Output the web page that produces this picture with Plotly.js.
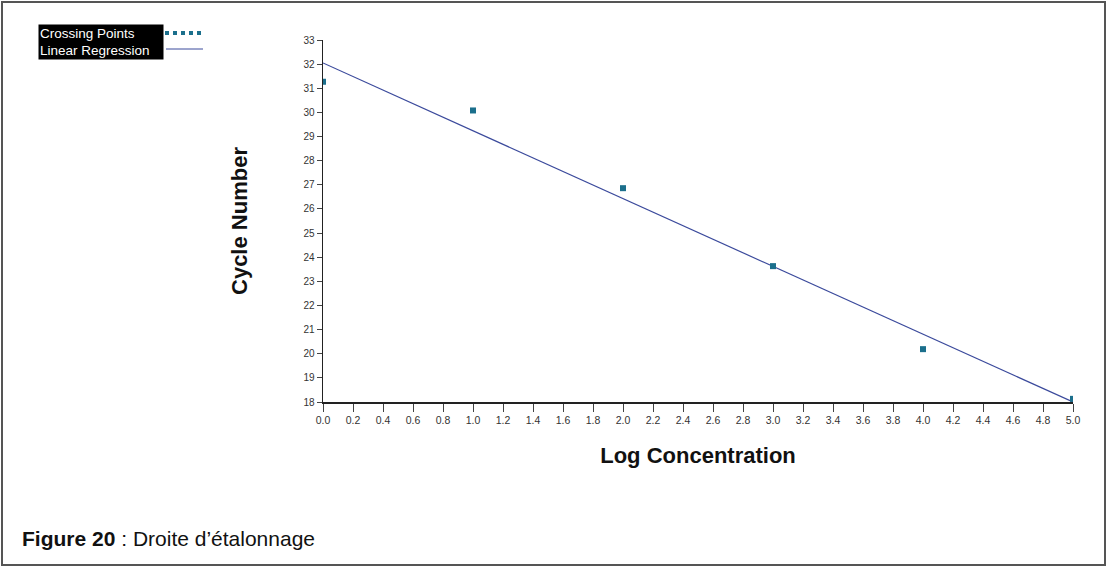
<!DOCTYPE html>
<html>
<head>
<meta charset="utf-8">
<script src="https://cdn.plot.ly/plotly-3.0.1.min.js"></script>
<style>html,body{margin:0;padding:0;background:#fff;}#chart{width:1108px;height:567px;}</style>
</head>
<body>
<div id="chart"></div>
<script>
// Data
const logConcentration = [0, 1, 2, 3, 4, 5];
const crossingPoints = [31.27, 30.08, 26.86, 23.63, 20.19, 18.13];
const regressionX = [0, 5];
const regressionY = [32.05, 18.0];
const seriesNames = ["Crossing Points", "Linear Regression"];

const W = 1108, H = 567;
const M = {l: 323, r: 35, t: 40, b: 165};
const pw = W - M.l - M.r, ph = H - M.t - M.b;
const px = x => (x - M.l) / pw;
const py = y => (H - M.b - y) / ph;

const font = "Liberation Sans, Arial, sans-serif";

const traces = [
  {
    x: regressionX, y: regressionY, mode: "lines", name: seriesNames[1],
    line: {color: "#3b4a9c", width: 1.2}, showlegend: false, hoverinfo: "skip"
  },
  {
    x: logConcentration, y: crossingPoints, mode: "markers", name: seriesNames[0],
    marker: {symbol: "square", size: 6, color: "#1b6f8c"}, showlegend: false
  }
];

const layout = {
  width: W, height: H,
  margin: M,
  paper_bgcolor: "#fff", plot_bgcolor: "#fff",
  font: {family: font, color: "#222"},
  showlegend: false,
  xaxis: {
    range: [0, 5], dtick: 0.2, tick0: 0, tickformat: ".1f",
    showgrid: false, zeroline: false, showline: true, linecolor: "#222", linewidth: 1.5,
    ticks: "outside", ticklen: 8, tickwidth: 1, tickcolor: "#444",
    tickfont: {size: 10.5, color: "#333", family: font},
    title: {text: "Log Concentration", font: {size: 22, family: font, color: "#111", weight: "bold"}, standoff: 22}
  },
  yaxis: {
    range: [18, 33], dtick: 1, tick0: 18,
    showgrid: false, zeroline: false, showline: true, linecolor: "#222", linewidth: 1.5,
    ticks: "outside", ticklen: 5, tickwidth: 1, tickcolor: "#444",
    tickfont: {size: 10, color: "#333", family: font},
    title: {text: "Cycle Number", font: {size: 22, family: font, color: "#111", weight: "bold"}, standoff: 49}
  },
  annotations: [
    {
      xref: "paper", yref: "paper", x: px(38), y: py(24), xanchor: "left", yanchor: "top",
      text: seriesNames.join("<br>"), showarrow: false, align: "left",
      bgcolor: "#000", borderpad: 1, width: 122, height: 32,
      font: {family: font, size: 13.5, color: "#fff"}
    },
    {
      xref: "paper", yref: "paper", x: px(20), y: py(538), xanchor: "left", yanchor: "middle",
      text: "<b>Figure 20</b> : Droite d’étalonnage", showarrow: false,
      font: {family: font, size: 21, color: "#111"}
    }
  ],
  shapes: [
    {type: "line", xref: "paper", yref: "paper", x0: px(165), x1: px(205), y0: py(33), y1: py(33),
     line: {color: "#1b6f8c", width: 4, dash: "4px,4px"}},
    {type: "line", xref: "paper", yref: "paper", x0: px(166), x1: px(203), y0: py(49), y1: py(49),
     line: {color: "#3b4a9c", width: 1}},
    {type: "rect", xref: "paper", yref: "paper", x0: px(2), x1: px(1105), y0: py(565), y1: py(2),
     line: {color: "#555", width: 2}}
  ]
};

Plotly.newPlot("chart", traces, layout, {staticPlot: true, displayModeBar: false});
</script>
</body>
</html>
